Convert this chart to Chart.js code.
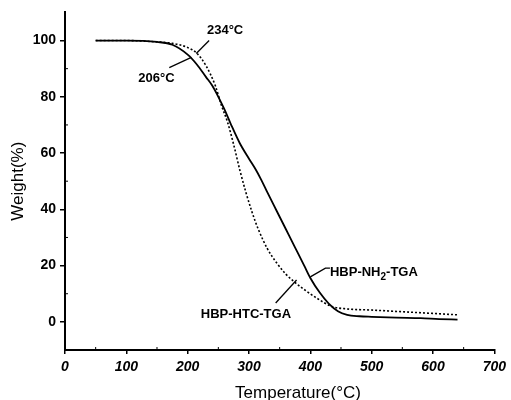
<!DOCTYPE html>
<html>
<head>
<meta charset="utf-8">
<script src="https://cdn.jsdelivr.net/npm/chart.js@4.4.1/dist/chart.umd.min.js"></script>
<style>
  html, body { margin: 0; padding: 0; background: #fff; }
  #wrap { width: 511px; height: 400px; }
</style>
</head>
<body>
<div id="wrap"><canvas id="tgaChart" width="511" height="400"></canvas></div>
<script>
// HBP-NH2 (solid line)
const nh2Temp = [50, 100, 150, 175, 200, 215, 230, 240, 250, 260, 270, 285, 300, 310, 320, 330, 345, 360, 375, 390, 400, 415, 430, 445, 460, 480, 500, 540, 580, 610, 640];
const nh2Weight = [100, 100, 99.5, 98.5, 95, 91.5, 87, 84, 80, 75.5, 70.5, 63.5, 58, 54.5, 50.5, 46, 39.5, 33, 26.5, 20, 15.6, 10.5, 6.5, 3.8, 2.5, 2, 1.8, 1.5, 1.3, 1, 0.8];

// HBP-HTC (dotted line)
const htcTemp = [50, 100, 150, 175, 200, 215, 230, 245, 255, 265, 275, 285, 295, 305, 315, 330, 345, 360, 375, 390, 410, 435, 460, 500, 550, 600, 640];
const htcWeight = [100, 100, 99.5, 99, 97.5, 95.5, 91, 84, 77, 71, 63, 54, 46, 39, 33, 26, 21, 17, 14, 11.5, 8.5, 5.5, 4.6, 4.2, 3.6, 3, 2.5];

const xTicks = [0, 100, 200, 300, 400, 500, 600, 700];
const yTicks = [0, 20, 40, 60, 80, 100];

// labels with leader lines (data coords): text, text pos, line from, line to
const notes = [
  { text: "234\u00B0C", at: [261, 103.5], from: [214, 95.4], to: [235, 100], align: "center" },
  { text: "206\u00B0C", at: [149, 86.5], from: [206, 94], to: [170, 90.4], align: "center" },
  { text: "HBP-HTC-TGA", at: [295, 2.5], from: [343.5, 6.7], to: [377.6, 14.9], align: "center" },
];

function toPoints(xs, ys) {
  return xs.map((x, i) => ({ x: x, y: ys[i] }));
}

const FONT = "'Liberation Sans', Arial, sans-serif";

const extras = {
  id: "extras",
  afterDraw(chart) {
    const ctx = chart.ctx;
    const xs = chart.scales.x;
    const ys = chart.scales.y;
    const px = (v) => xs.getPixelForValue(v);
    const py = (v) => ys.getPixelForValue(v);
    ctx.save();
    ctx.strokeStyle = "#000";
    ctx.fillStyle = "#000";
    // minor ticks, short and inward
    ctx.lineWidth = 1;
    ctx.beginPath();
    for (let v = 50; v < 700; v += 100) {
      ctx.moveTo(px(v), ys.bottom);
      ctx.lineTo(px(v), ys.bottom - 3);
    }
    for (let v = 10; v <= 90; v += 20) {
      ctx.moveTo(xs.left, py(v));
      ctx.lineTo(xs.left + 3, py(v));
    }
    ctx.stroke();

    // notes
    ctx.lineWidth = 1.3;
    ctx.font = "bold 13px " + FONT;
    ctx.textBaseline = "middle";
    notes.forEach((n) => {
      ctx.beginPath();
      ctx.moveTo(px(n.from[0]), py(n.from[1]));
      ctx.lineTo(px(n.to[0]), py(n.to[1]));
      ctx.stroke();
      ctx.textAlign = n.align;
      ctx.fillText(n.text, px(n.at[0]), py(n.at[1]));
    });

    // HBP-NH2-TGA with subscript
    ctx.beginPath();
    ctx.moveTo(px(400), py(16));
    ctx.lineTo(px(424.6), py(19.1));
    ctx.lineTo(px(432), py(19.1));
    ctx.stroke();
    let tx = px(432);
    const ty = py(17.7);
    ctx.textAlign = "left";
    ctx.fillText("HBP-NH", tx, ty);
    tx += ctx.measureText("HBP-NH").width;
    ctx.font = "bold 10px " + FONT;
    ctx.fillText("2", tx, ty + 5);
    tx += ctx.measureText("2").width;
    ctx.font = "bold 13px " + FONT;
    ctx.fillText("-TGA", tx, ty);

    // axis titles
    ctx.font = "17px " + FONT;
    ctx.textAlign = "center";
    ctx.fillText("Temperature(\u00B0C)", 298, 393);
    ctx.translate(18, (ys.top + ys.bottom) / 2);
    ctx.rotate(-Math.PI / 2);
    ctx.fillText("Weight(%)", 0, 0);
    ctx.restore();
  },
};

const data = {
  datasets: [
    {
      label: "HBP-NH2-TGA",
      data: toPoints(nh2Temp, nh2Weight),
      borderColor: "#000",
      borderWidth: 1.8,
      pointRadius: 0,
      cubicInterpolationMode: "monotone",
      fill: false,
    },
    {
      label: "HBP-HTC-TGA",
      data: toPoints(htcTemp, htcWeight),
      borderColor: "#000",
      borderWidth: 1.6,
      borderDash: [2, 2],
      pointRadius: 0,
      cubicInterpolationMode: "monotone",
      fill: false,
    },
  ],
};

const config = {
  type: "line",
  data: data,
  options: {
    responsive: false,
    animation: false,
    layout: { padding: { top: 12, right: 14, left: 0, bottom: 0 } },
    plugins: { legend: { display: false }, tooltip: { enabled: false } },
    scales: {
      x: {
        type: "linear",
        min: 0,
        max: 700,
        afterBuildTicks: (s) => { s.ticks = xTicks.map((v) => ({ value: v })); },
        afterFit: (s) => { s.height = 50; },
        border: { display: true, color: "#000", width: 2 },
        grid: { display: true, drawOnChartArea: false, drawTicks: true, tickLength: 4, color: "#000", lineWidth: 1.5 },
        ticks: {
          color: "#000",
          padding: 5,
          maxRotation: 0,
          font: { family: FONT, size: 14, weight: "bold", style: "italic" },
        },
      },
      y: {
        type: "linear",
        min: -10,
        max: 110,
        afterBuildTicks: (s) => { s.ticks = yTicks.map((v) => ({ value: v })); },
        afterFit: (s) => { s.width = 65; },
        border: { display: true, color: "#000", width: 2 },
        grid: { display: true, drawOnChartArea: false, drawTicks: true, tickLength: 5, color: "#000", lineWidth: 1.5 },
        ticks: {
          color: "#000",
          padding: 4,
          font: { family: FONT, size: 14, weight: "bold" },
        },
      },
    },
  },
  plugins: [extras],
};

const myChart = new Chart(document.getElementById("tgaChart"), config);
</script>
</body>
</html>
